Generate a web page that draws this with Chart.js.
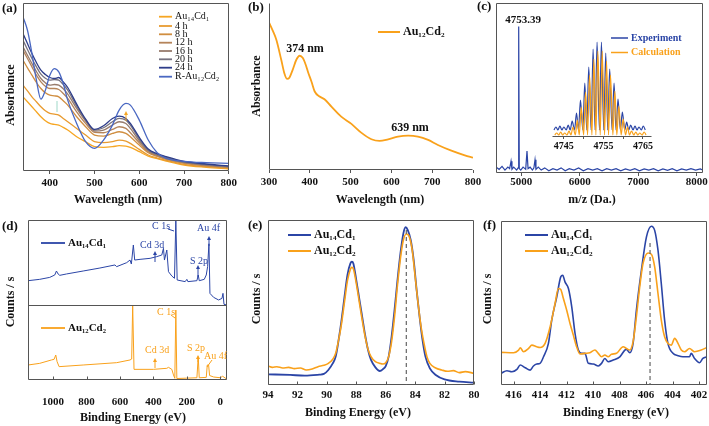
<!DOCTYPE html>
<html>
<head>
<meta charset="utf-8">
<title>Au14Cd1 / Au12Cd2</title>
<script src="https://cdn.jsdelivr.net/npm/chart.js@4.4.1/dist/chart.umd.min.js"></script>
<style>
  html, body { margin: 0; padding: 0; background: #fff; }
  body { width: 709px; height: 426px; position: relative; overflow: hidden; }
  canvas { position: absolute; }
</style>
</head>
<body>
<canvas id="pa" width="240" height="210" style="left:0;top:0"></canvas>
<canvas id="pb" width="250" height="210" style="left:235px;top:0"></canvas>
<canvas id="pc" width="245" height="210" style="left:470px;top:0"></canvas>
<canvas id="pi" width="140" height="125" style="left:545px;top:28px"></canvas>
<canvas id="pd" width="240" height="214" style="left:0;top:212px"></canvas>
<canvas id="pe" width="245" height="214" style="left:235px;top:212px"></canvas>
<canvas id="pf" width="245" height="214" style="left:470px;top:212px"></canvas>
<script>
// (a) UV-vis during conversion
const uvWl = [340,350,360,370,380,390,400,410,420,430,440,460,480,500,520,540,555,570,580,600,620,640,660,700,750,800];
const uvAu14 = [0.446,0.416,0.386,0.356,0.326,0.302,0.286,0.28,0.276,0.262,0.246,0.206,0.176,0.146,0.142,0.146,0.152,0.15,0.142,0.116,0.09,0.074,0.06,0.036,0.022,0.012];
const uv4h  = [0.516,0.482,0.446,0.416,0.386,0.362,0.346,0.342,0.336,0.316,0.296,0.256,0.216,0.176,0.17,0.176,0.186,0.18,0.166,0.13,0.096,0.078,0.064,0.04,0.026,0.016];
const uv8h  = [0.666,0.62,0.576,0.532,0.496,0.47,0.456,0.452,0.446,0.422,0.396,0.326,0.266,0.216,0.21,0.226,0.236,0.226,0.206,0.156,0.11,0.088,0.07,0.046,0.03,0.02];
const uv12h = [0.726,0.676,0.626,0.576,0.536,0.51,0.496,0.496,0.49,0.466,0.436,0.356,0.286,0.232,0.23,0.25,0.266,0.256,0.23,0.17,0.116,0.092,0.074,0.05,0.034,0.022];
const uv16h = [0.746,0.696,0.646,0.598,0.556,0.53,0.516,0.52,0.516,0.494,0.462,0.376,0.3,0.24,0.246,0.276,0.296,0.286,0.256,0.182,0.122,0.096,0.078,0.052,0.036,0.024];
const uv20h = [0.786,0.73,0.676,0.626,0.582,0.558,0.546,0.55,0.546,0.52,0.486,0.39,0.306,0.246,0.26,0.296,0.316,0.306,0.276,0.192,0.126,0.1,0.082,0.054,0.038,0.026];
const uv24h = [0.826,0.766,0.706,0.652,0.606,0.58,0.562,0.556,0.562,0.536,0.502,0.402,0.312,0.25,0.272,0.316,0.33,0.316,0.286,0.202,0.132,0.104,0.086,0.058,0.042,0.03];
const uvRAu12 = [0.926,0.846,0.706,0.546,0.432,0.486,0.576,0.616,0.596,0.526,0.426,0.286,0.176,0.136,0.186,0.276,0.366,0.406,0.396,0.306,0.186,0.11,0.076,0.058,0.05,0.046];
const uvNames = ['Au₁₄Cd₁', '4 h', '8 h', '12 h', '16 h', '20 h', '24 h', 'R-Au₁₂Cd₂'];
const uvTicks = [400, 500, 600, 700, 800];

// (b) UV-vis of Au12Cd2
const bWl = [300,310,318,330,338,344,350,358,367,375,383,390,396,404,412,424,436,453,477,502,526,551,571,592,616,641,665,690,714,747,780,800];
const bAbs = [0.884,0.83,0.78,0.66,0.576,0.546,0.553,0.6,0.66,0.684,0.67,0.63,0.584,0.53,0.47,0.44,0.424,0.38,0.32,0.276,0.224,0.184,0.174,0.184,0.2,0.206,0.2,0.18,0.15,0.116,0.088,0.074];
const bTicks = [300, 400, 500, 600, 700, 800];

// (c) ESI-MS
const msMz = [4570,4620,4670,4720,4770,4800,4824,4840,4870,4920,4945,4955,4965,4990,5030,5075,5097,5115,5150,5190,5215,5234,5250,5290,5340,5400,5470,5540,5610,5680,5750,5820,5900,5980,6060,6140,6220,6300,6380,6460,6540,6620,6700,6780,6860,6940,7020,7100,7180,7260,7340,7420,7500,7580,7660,7740,7820,7900,7980,8060,8100];
const msInt = [0.04,0.025,0.045,0.02,0.04,0.03,0.08,0.025,0.04,0.02,0.035,1.0,0.03,0.02,0.04,0.025,0.15,0.03,0.04,0.02,0.035,0.09,0.025,0.04,0.02,0.035,0.015,0.03,0.02,0.035,0.015,0.03,0.02,0.035,0.015,0.03,0.02,0.03,0.015,0.03,0.02,0.03,0.015,0.028,0.018,0.03,0.015,0.028,0.02,0.03,0.015,0.028,0.018,0.03,0.015,0.028,0.02,0.03,0.02,0.028,0.02];
const msTicks = [5000, 6000, 7000, 8000];
const isoMz = [4743.0,4744.0,4745.0,4746.1,4747.1,4748.2,4749.2,4750.3,4751.3,4752.4,4753.4,4754.5,4755.6,4756.6,4757.7,4758.7,4759.8,4760.9,4761.9,4763.0,4764.0,4765.1];
const isoExp = [10,11,10,12,16,24,37,54,70,88,95,95,84,68,54,38,25,15,12,11,10,11];
const isoCalc = [4,5,4,6,10,17,30,45,62,78,86,86,76,62,46,31,18,10,6,5,4,5];
const isoExpValley = 7, isoCalcValley = 2;
const isoTicks = [4745, 4750, 4755, 4760, 4765];

// (d) XPS survey
const surTopEv = [1150,1080,1020,990,980,970,960,920,820,720,630,620,560,540,532,520,512,480,420,380,350,340,334,320,310,290,274,266,258,210,200,194,140,132,126,96,84,76,68,62,40,10,-10,-16,-22,-40];
const surTop = [0.286,0.302,0.325,0.353,0.4,0.365,0.349,0.365,0.4,0.435,0.471,0.451,0.498,0.529,0.482,0.706,0.529,0.537,0.549,0.569,0.588,0.667,0.529,0.647,0.392,0.341,0.314,1.0,0.294,0.275,0.302,0.275,0.286,0.353,0.286,0.302,0.353,0.451,0.72,0.137,0.09,0.059,0.078,0.137,0.008,0.0];
const surBotEv = [1150,1080,1010,994,984,976,964,820,620,540,530,524,516,400,320,310,290,280,272,266,260,200,140,132,126,84,78,70,64,40,0,-14,-40];
const surBot = [0.2,0.222,0.267,0.276,0.333,0.244,0.178,0.2,0.231,0.267,0.28,1.0,0.142,0.142,0.156,0.169,0.142,0.067,0.022,0.933,0.02,0.025,0.03,0.311,0.03,0.035,0.2,0.2,0.06,0.04,0.03,0.05,0.01];
const surTicks = [0, 200, 400, 600, 800, 1000];

// (e) Au 4f
const auEvA = [94.0,92.5,91.5,90.5,90.2,89.9,89.6,89.4,89.2,89.0,88.8,88.6,88.4,88.3,88.2,88.0,87.8,87.6,87.4,87.2,87.0,86.7,86.4,86.2,86.0,85.8,85.6,85.4,85.2,85.0,84.8,84.65,84.5,84.3,84.1,83.9,83.7,83.5,83.3,83.0,82.6,82.0,81.0,80.0];
const auA = [0.065,0.061,0.057,0.063,0.067,0.091,0.131,0.172,0.273,0.394,0.535,0.667,0.737,0.747,0.737,0.636,0.525,0.414,0.303,0.212,0.152,0.107,0.085,0.095,0.115,0.172,0.293,0.455,0.636,0.798,0.919,0.956,0.939,0.879,0.758,0.576,0.414,0.273,0.172,0.101,0.061,0.034,0.02,0.014];
const auEvB = [94.0,93.7,93.4,93.0,92.6,92.2,91.8,91.4,91.0,90.6,90.2,89.9,89.6,89.4,89.2,89.0,88.8,88.6,88.4,88.3,88.2,88.0,87.8,87.6,87.4,87.2,87.0,86.7,86.4,86.2,86.0,85.8,85.6,85.4,85.2,85.0,84.8,84.6,84.4,84.2,84.0,83.8,83.6,83.4,83.2,83.0,82.6,82.2,81.8,81.4,81.0,80.6,80.0];
const auB = [0.115,0.107,0.111,0.103,0.107,0.099,0.103,0.091,0.097,0.111,0.119,0.131,0.156,0.192,0.273,0.374,0.505,0.632,0.701,0.713,0.705,0.616,0.505,0.394,0.293,0.216,0.172,0.141,0.131,0.127,0.135,0.172,0.263,0.414,0.606,0.768,0.879,0.915,0.899,0.818,0.657,0.495,0.354,0.253,0.172,0.131,0.103,0.091,0.083,0.087,0.075,0.081,0.071];
const auTicks = [80, 82, 84, 86, 88, 90, 92, 94];

// (f) Cd 3d
const cdEvA = [416.95,416.5,416.13,415.75,415.5,415.12,414.75,414.5,414.25,414.0,413.74,413.37,413.12,412.74,412.44,412.29,412.12,411.86,411.61,411.36,411.11,410.86,410.61,410.36,409.98,409.61,409.36,409.11,408.86,408.48,407.98,407.6,407.48,407.23,406.98,406.73,406.35,405.97,405.6,405.35,405.1,404.85,404.6,404.35,403.97,403.59,403.22,402.72,402.59,402.34,401.96,401.71,401.41];
const cdA = [0.071,0.087,0.081,0.095,0.122,0.105,0.091,0.116,0.128,0.132,0.172,0.254,0.396,0.538,0.659,0.669,0.629,0.588,0.477,0.314,0.213,0.193,0.193,0.132,0.128,0.116,0.132,0.162,0.142,0.152,0.172,0.213,0.217,0.197,0.254,0.456,0.7,0.903,0.968,0.943,0.822,0.619,0.396,0.254,0.193,0.179,0.172,0.172,0.193,0.162,0.136,0.162,0.172];
const cdEvB = [416.95,416.0,415.62,415.5,415.25,414.87,414.62,414.25,414.0,413.62,413.24,412.87,412.62,412.44,412.24,411.99,411.74,411.49,411.24,410.99,410.61,410.24,409.86,409.61,409.36,409.11,408.86,408.61,408.23,407.73,407.48,407.23,406.98,406.73,406.48,406.23,405.85,405.6,405.35,405.1,404.85,404.6,404.35,404.1,403.84,403.59,403.34,403.09,402.72,402.34,401.84,401.41];
const cdB = [0.199,0.197,0.213,0.227,0.203,0.223,0.243,0.233,0.229,0.254,0.355,0.497,0.588,0.582,0.527,0.456,0.375,0.304,0.233,0.189,0.193,0.197,0.213,0.193,0.172,0.183,0.172,0.187,0.193,0.233,0.223,0.213,0.264,0.416,0.598,0.74,0.805,0.797,0.72,0.558,0.396,0.294,0.254,0.243,0.284,0.254,0.213,0.203,0.223,0.203,0.213,0.229];
const cdTicks = [402, 404, 406, 408, 410, 412, 414, 416];

const FONT = '"Liberation Serif", "Times New Roman", serif';
const BLUE = '#2B45A6', ORANGE = '#F9A11B';
const uvColors = ['#F6A623', '#E89B30', '#D08E40', '#B5845A', '#977B6C', '#76727F', '#2E3D8A', '#4A68C2'];
const fnt = (w, s) => w + ' ' + s + 'px ' + FONT;

Chart.defaults.font.family = FONT;
Chart.defaults.color = '#111';

// frame, inner ticks, legends and labels; text positions are page pixels
const deco = {
  id: 'deco',
  afterDatasetsDraw(chart, args, o) {
    const { ctx, chartArea: a } = chart;
    const sx = chart.scales.x, sy = chart.scales.y;
    const ox = chart.canvas.offsetLeft, oy = chart.canvas.offsetTop;
    const L = Math.round(a.left) + 0.5, R = Math.round(a.right) - 0.5;
    const T = Math.round(a.top) + 0.5, B = Math.round(a.bottom) - 0.5;
    const X = v => v - ox, Y = v => v - oy;
    const fc = '#555';
    const line = (x1, y1, x2, y2, c, w, dash) => {
      ctx.beginPath(); ctx.setLineDash(dash || []); ctx.strokeStyle = c; ctx.lineWidth = w;
      ctx.moveTo(x1, y1); ctx.lineTo(x2, y2); ctx.stroke();
    };
    ctx.save();
    if (o.frame === 'box') { line(L, T, R, T, fc, 1); line(R, T, R, B, fc, 1); line(L, B, R, B, fc, 1); line(L, T, L, B, fc, 1); }
    if (o.frame === 'lb') { line(L, T, L, B, fc, 1); line(L, B, R, B, fc, 1); }
    if (o.frame === 'b') line(L, B, R, B, fc, 1);
    if (o.inTicks) sx.ticks.forEach(t => {
      const p = Math.round(sx.getPixelForValue(t.value)) + 0.5;
      line(p, B, p, B - 3, fc, 1);
    });
    (o.items || []).forEach(it => {
      if (it.t === 'text' || it.t === 'vtext') {
        ctx.font = it.f; ctx.fillStyle = it.c || '#111';
        ctx.textAlign = it.al || 'left'; ctx.textBaseline = 'middle';
        if (it.t === 'vtext') {
          ctx.save(); ctx.translate(X(it.at[0]), Y(it.at[1])); ctx.rotate(-Math.PI / 2);
          ctx.textAlign = 'center'; ctx.fillText(it.s, 0, 0); ctx.restore();
        } else ctx.fillText(it.s, X(it.at[0]), Y(it.at[1]));
      } else if (it.t === 'seg') {
        line(X(it.p[0]), Y(it.p[1]), X(it.p[2]), Y(it.p[3]), it.c, it.w || 1);
      } else if (it.t === 'arrow') {
        const x = X(it.x), y1 = Y(it.y1), y2 = Y(it.y2);
        line(x, y1, x, y2 + 2, it.c, 1);
        ctx.beginPath(); ctx.fillStyle = it.c;
        ctx.moveTo(x, y2); ctx.lineTo(x - 2, y2 + 4); ctx.lineTo(x + 2, y2 + 4); ctx.closePath(); ctx.fill();
      } else if (it.t === 'key') {
        line(X(it.x1), Y(it.y), X(it.x2), Y(it.y), it.c, it.w || 2);
        ctx.font = it.f; ctx.fillStyle = it.tc || '#111'; ctx.textAlign = 'left'; ctx.textBaseline = 'middle';
        ctx.fillText(it.s, X(it.x2) + 3, Y(it.y));
      } else if (it.t === 'vline') {
        const p = sx.getPixelForValue(it.x);
        line(p, Y(it.top), p, B, it.c, it.w || 1, it.dash);
      } else if (it.t === 'hline') {
        const p = Math.round(sy.getPixelForValue(it.y)) + 0.5;
        line(L, p, R, p, fc, 1);
      }
    });
    ctx.restore();
  }
};
Chart.register(deco);

function xAxis(min, max, ticks, h, o) {
  return {
    type: 'linear', min, max, reverse: !!o.rev,
    afterBuildTicks: s => { s.ticks = ticks.map(v => ({ value: v })); },
    afterFit: s => { s.height = h; },
    grid: { display: true, drawOnChartArea: false, drawTicks: !o.inTicks, tickLength: o.tl || 3, color: '#555' },
    border: { display: false },
    ticks: {
      autoSkip: false, maxRotation: 0, minRotation: 0, padding: o.pad, color: '#111',
      font: { family: FONT, size: o.size || 11, weight: 'bold' },
      callback: o.cb || (v => String(v))
    }
  };
}
function yAxis(min, max, w) {
  return {
    type: 'linear', min, max, display: w > 0,
    afterFit: s => { s.width = w; },
    grid: { display: false }, border: { display: false }, ticks: { display: false }
  };
}
function pts(xs, ys) { return xs.map((x, i) => ({ x, y: ys[i] })); }
function series(xs, ys, color, width, extra) {
  return Object.assign({ data: pts(xs, ys), borderColor: color, borderWidth: width, pointRadius: 0, fill: false, tension: 0 }, extra || {});
}
function options(x, y, pad, decoOpts) {
  return {
    responsive: false, animation: false, events: [],
    layout: { padding: pad },
    plugins: { legend: { display: false }, tooltip: { enabled: false }, deco: decoOpts },
    scales: { x, y }
  };
}
const smooth = { cubicInterpolationMode: 'monotone' };

// (a)
const uvSeries = [uvAu14, uv4h, uv8h, uv12h, uv16h, uv20h, uv24h, uvRAu12];
const legendRows = [16.7, 26, 34.3, 42.7, 51, 59.3, 67.7, 76.7];
new Chart(document.getElementById('pa'), {
  type: 'line',
  data: { datasets: uvSeries.map((ys, i) => series(uvWl, ys, uvColors[i], 1.3, Object.assign({ order: 7 - i }, smooth))) },
  options: options(
    xAxis(340, 800, uvTicks, 39, { pad: 3 }),
    yAxis(0, 1.01, 23),
    { left: 0, right: 10, top: 3, bottom: 0 },
    { frame: 'box', items: [
      { t: 'text', at: [2, 9], s: '(a)', f: fnt('bold', 13) },
      { t: 'text', at: [118, 200], s: 'Wavelength (nm)', f: fnt('bold', 12), al: 'center' },
      { t: 'vtext', at: [11, 95], s: 'Absorbance', f: fnt('bold', 12) },
      { t: 'arrow', x: 126, y1: 121, y2: 111, c: '#F6A623' },
      { t: 'seg', p: [57, 101, 57, 112], c: '#9fd8c8', w: 1 }
    ].concat(uvNames.map((s, i) => ({ t: 'key', x1: 159, x2: 172, y: legendRows[i], c: uvColors[i], w: 1.8, s, f: fnt('normal', 10) }))) }
  )
});

// (b)
new Chart(document.getElementById('pb'), {
  type: 'line',
  data: { datasets: [series(bWl, bAbs, ORANGE, 1.8, smooth)] },
  options: options(
    xAxis(300, 800, bTicks, 40, { pad: 3 }),
    yAxis(0, 1, 34),
    { left: 0, right: 12, top: 3, bottom: 0 },
    { frame: 'lb', items: [
      { t: 'text', at: [248, 8], s: '(b)', f: fnt('bold', 13) },
      { t: 'text', at: [380, 200], s: 'Wavelength (nm)', f: fnt('bold', 12), al: 'center' },
      { t: 'vtext', at: [257, 86], s: 'Absorbance', f: fnt('bold', 12) },
      { t: 'text', at: [305, 49], s: '374 nm', f: fnt('bold', 12), al: 'center' },
      { t: 'text', at: [410, 128], s: '639 nm', f: fnt('bold', 12), al: 'center' },
      { t: 'key', x1: 378, x2: 400, y: 32, c: ORANGE, w: 2, s: 'Au₁₂Cd₂', f: fnt('bold', 12) }
    ] }
  )
});

// (c) main spectrum
new Chart(document.getElementById('pc'), {
  type: 'line',
  data: { datasets: [series(msMz, msInt, BLUE, 1.2)] },
  options: options(
    xAxis(4567, 8106, msTicks, 37, { pad: 0 }),
    yAxis(0, 1.16, 26),
    { left: 0, right: 12, top: 3, bottom: 0 },
    { frame: 'box', items: [
      { t: 'text', at: [477, 7], s: '(c)', f: fnt('bold', 13) },
      { t: 'text', at: [592, 200], s: 'm/z (Da.)', f: fnt('bold', 12), al: 'center' },
      { t: 'text', at: [523, 20], s: '4753.39', f: fnt('bold', 11), al: 'center' }
    ] }
  )
});

// (c) inset: isotope pattern
function comb(centers, heights, valley, shift) {
  const out = [];
  centers.forEach((c, i) => { out.push({ x: c + shift - 0.5, y: valley }); out.push({ x: c + shift, y: heights[i] }); });
  out.push({ x: centers[centers.length - 1] + shift + 0.5, y: valley });
  return out;
}
new Chart(document.getElementById('pi'), {
  type: 'line',
  data: { datasets: [
    { data: comb(isoMz, isoCalc, isoCalcValley, 0.2), borderColor: ORANGE, borderWidth: 1.2, pointRadius: 0, cubicInterpolationMode: 'monotone' },
    { data: comb(isoMz, isoExp, isoExpValley, 0), borderColor: BLUE, borderWidth: 1.2, pointRadius: 0, cubicInterpolationMode: 'monotone' }
  ] },
  options: options(
    xAxis(4742, 4767.3, isoTicks, 16, { pad: 1, tl: 2, size: 10, cb: v => (v % 10 === 5 ? String(v) : '') }),
    yAxis(0, 99, 0),
    { left: 7, right: 33, top: 10, bottom: 0 },
    { frame: 'b', items: [
      { t: 'key', x1: 611, x2: 628, y: 38, c: BLUE, w: 1.5, s: 'Experiment', tc: BLUE, f: fnt('bold', 10) },
      { t: 'key', x1: 611, x2: 628, y: 52.5, c: ORANGE, w: 1.5, s: 'Calculation', tc: ORANGE, f: fnt('bold', 10) }
    ] }
  )
});

// (d) survey: upper half Au14Cd1, lower half Au12Cd2
const topSpan = 85 / 75;
new Chart(document.getElementById('pd'), {
  type: 'line',
  data: { datasets: [
    series(surTopEv, surTop.map(v => 1 + v * topSpan), BLUE, 1),
    series(surBotEv, surBot, ORANGE, 1)
  ] },
  options: options(
    xAxis(-40, 1150, surTicks, 46, { rev: true, inTicks: true, pad: 16 }),
    yAxis(0, 1 + topSpan, 28),
    { left: 0, right: 13, top: 8, bottom: 0 },
    { frame: 'box', inTicks: true, items: [
      { t: 'hline', y: 1 },
      { t: 'text', at: [2, 227], s: '(d)', f: fnt('bold', 13) },
      { t: 'text', at: [133, 418], s: 'Binding Energy (eV)', f: fnt('bold', 12), al: 'center' },
      { t: 'vtext', at: [11, 302], s: 'Counts / s', f: fnt('bold', 12) },
      { t: 'key', x1: 41, x2: 65, y: 243, c: BLUE, w: 1.8, s: 'Au₁₄Cd₁', f: fnt('bold', 11) },
      { t: 'key', x1: 41, x2: 65, y: 328, c: ORANGE, w: 1.8, s: 'Au₁₂Cd₂', f: fnt('bold', 11) },
      { t: 'text', at: [152, 226], s: 'C 1s', c: BLUE, f: fnt('normal', 10) },
      { t: 'seg', p: [168, 229, 174, 231], c: BLUE },
      { t: 'text', at: [140, 245], s: 'Cd 3d', c: BLUE, f: fnt('normal', 10) },
      { t: 'arrow', x: 155, y1: 262, y2: 251, c: BLUE },
      { t: 'text', at: [190, 261], s: 'S 2p', c: BLUE, f: fnt('normal', 10) },
      { t: 'arrow', x: 198, y1: 277, y2: 265, c: BLUE },
      { t: 'text', at: [197, 228], s: 'Au 4f', c: BLUE, f: fnt('normal', 10) },
      { t: 'arrow', x: 209, y1: 246, y2: 236, c: BLUE },
      { t: 'text', at: [157, 312], s: 'C 1s', c: ORANGE, f: fnt('normal', 10) },
      { t: 'seg', p: [171, 315, 175, 318], c: ORANGE },
      { t: 'text', at: [145, 350], s: 'Cd 3d', c: ORANGE, f: fnt('normal', 10) },
      { t: 'arrow', x: 155, y1: 368, y2: 358, c: ORANGE },
      { t: 'text', at: [187, 348], s: 'S 2p', c: ORANGE, f: fnt('normal', 10) },
      { t: 'arrow', x: 198, y1: 362, y2: 355, c: ORANGE },
      { t: 'text', at: [204, 356], s: 'Au 4f', c: ORANGE, f: fnt('normal', 10) },
      { t: 'seg', p: [207, 367, 212, 360], c: ORANGE }
    ] }
  )
});

// (e) Au 4f
new Chart(document.getElementById('pe'), {
  type: 'line',
  data: { datasets: [
    series(auEvB, auB, ORANGE, 1.6, smooth),
    series(auEvA, auA, BLUE, 1.8, smooth)
  ] },
  options: options(
    xAxis(80, 94, auTicks, 41, { rev: true, inTicks: true, pad: 4 }),
    yAxis(0, 1, 33),
    { left: 0, right: 6, top: 8, bottom: 0 },
    { frame: 'box', inTicks: true, items: [
      { t: 'vline', x: 84.6, top: 230, c: '#666', w: 1.2, dash: [4, 3] },
      { t: 'text', at: [248, 226], s: '(e)', f: fnt('bold', 13) },
      { t: 'text', at: [358, 413], s: 'Binding Energy (eV)', f: fnt('bold', 12), al: 'center' },
      { t: 'vtext', at: [257, 299], s: 'Counts / s', f: fnt('bold', 12) },
      { t: 'key', x1: 288, x2: 311, y: 235, c: BLUE, w: 2, s: 'Au₁₄Cd₁', f: fnt('bold', 12) },
      { t: 'key', x1: 288, x2: 311, y: 251, c: ORANGE, w: 2, s: 'Au₁₂Cd₂', f: fnt('bold', 12) }
    ] }
  )
});

// (f) Cd 3d
new Chart(document.getElementById('pf'), {
  type: 'line',
  data: { datasets: [
    series(cdEvB, cdB, ORANGE, 1.6, smooth),
    series(cdEvA, cdA, BLUE, 1.6, smooth)
  ] },
  options: options(
    xAxis(401.4, 416.95, cdTicks, 41, { rev: true, inTicks: true, pad: 4 }),
    yAxis(0, 1, 31),
    { left: 0, right: 8, top: 9, bottom: 0 },
    { frame: 'box', inTicks: true, items: [
      { t: 'vline', x: 405.7, top: 243, c: '#666', w: 1.2, dash: [4, 3] },
      { t: 'text', at: [483, 226], s: '(f)', f: fnt('bold', 13) },
      { t: 'text', at: [616, 413], s: 'Binding Energy (eV)', f: fnt('bold', 12), al: 'center' },
      { t: 'vtext', at: [488, 299], s: 'Counts / s', f: fnt('bold', 12) },
      { t: 'key', x1: 525, x2: 548, y: 235, c: BLUE, w: 2, s: 'Au₁₄Cd₁', f: fnt('bold', 12) },
      { t: 'key', x1: 525, x2: 548, y: 251, c: ORANGE, w: 2, s: 'Au₁₂Cd₂', f: fnt('bold', 12) }
    ] }
  )
});
</script>
</body>
</html>
